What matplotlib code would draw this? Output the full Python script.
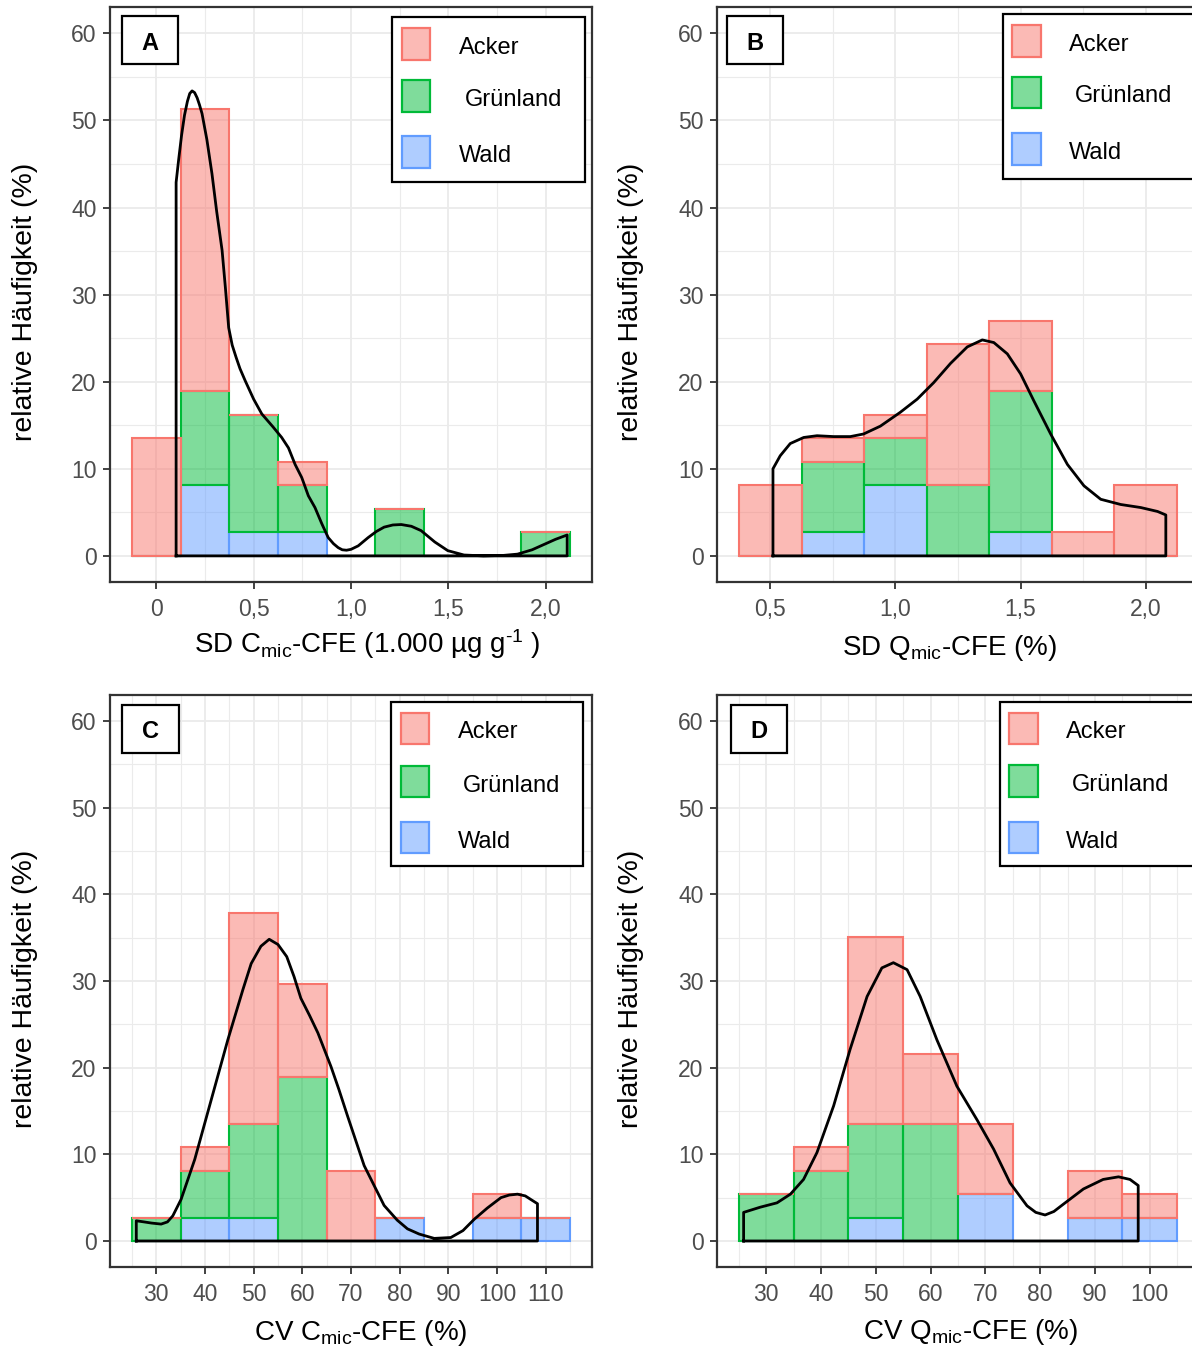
import numpy as np
import matplotlib
matplotlib.use("Agg")
import matplotlib.pyplot as plt
from matplotlib.patches import Rectangle
from matplotlib.colors import to_rgba

plt.rcParams['font.family'] = ['Liberation Sans', 'DejaVu Sans']
plt.rcParams['mathtext.fontset'] = 'custom'
plt.rcParams['mathtext.rm'] = 'Liberation Sans'
plt.rcParams['mathtext.it'] = 'Liberation Sans:italic'

# ---- data (relative frequency in %, stacked: Wald / Grünland / Acker) ----
groups = ["Acker", "Grünland", "Wald"]
colors = {"Acker": "#F8766D", "Grünland": "#00BA38", "Wald": "#619CFF"}

# A: SD Cmic-CFE
bins_A = [0, 0.25, 0.5, 0.75, 1.0, 1.25, 1.5, 1.75, 2.0]
wald_A = [0, 8.1, 2.7, 2.7, 0, 0, 0, 0, 0]
gruen_A = [0, 10.8, 13.5, 5.4, 0, 5.4, 0, 0, 2.7]
acker_A = [13.5, 32.4, 0, 2.7, 0, 0, 0, 0, 0]
dens_x_A = [0.102, 0.115, 0.13, 0.145, 0.16, 0.172, 0.184, 0.197, 0.21, 0.222,
            0.235, 0.26, 0.286, 0.31, 0.338, 0.355, 0.372, 0.39, 0.41, 0.43,
            0.457, 0.5, 0.542, 0.6, 0.644, 0.679, 0.713, 0.747, 0.781, 0.815,
            0.85, 0.883, 0.91, 0.934, 0.955, 0.977, 1.0, 1.037, 1.088, 1.13,
            1.17, 1.215, 1.258, 1.31, 1.36, 1.43, 1.497, 1.58, 1.68, 1.78,
            1.855, 1.93, 1.99, 2.05, 2.11]
dens_y_A = [42.9, 45.5, 48.3, 50.6, 52.2, 53.1, 53.4, 53.2, 52.6, 51.8,
            50.8, 47.8, 43.9, 39.6, 35.1, 30.8, 26.2, 24.2, 22.8, 21.5,
            20.1, 18.0, 16.3, 14.8, 13.6, 12.4, 10.5, 9.0, 6.9, 5.55,
            3.7, 2.1, 1.4, 0.95, 0.7, 0.65, 0.75, 1.15, 2.1, 2.8,
            3.3, 3.55, 3.6, 3.4, 2.9, 1.6, 0.6, 0.1, 0.0, 0.05,
            0.2, 0.7, 1.3, 1.9, 2.4]

# B: SD Qmic-CFE
bins_B = [0.5, 0.75, 1.0, 1.25, 1.5, 1.75, 2.0]
wald_B = [0, 2.7, 8.1, 0, 2.7, 0, 0]
gruen_B = [0, 8.1, 5.4, 8.1, 16.2, 0, 0]
acker_B = [8.1, 2.7, 2.7, 16.2, 8.1, 2.7, 8.1]
dens_x_B = [0.511, 0.54, 0.58, 0.634, 0.687, 0.753, 0.82, 0.873, 0.94, 1.02,
            1.087, 1.153, 1.22, 1.287, 1.347, 1.393, 1.447, 1.5, 1.553, 1.62,
            1.687, 1.753, 1.82, 1.9, 1.98, 2.047, 2.08]
dens_y_B = [10.0, 11.5, 12.9, 13.6, 13.8, 13.7, 13.7, 14.0, 14.9, 16.5,
            18.0, 19.9, 22.1, 24.0, 24.8, 24.5, 23.2, 20.9, 17.8, 14.0,
            10.5, 8.05, 6.5, 5.9, 5.55, 5.1, 4.7]

# C: CV Cmic-CFE
bins_C = [30, 40, 50, 60, 70, 80, 90, 100, 110]
wald_C = [0, 2.7, 2.7, 0, 0, 2.7, 0, 2.7, 2.7]
gruen_C = [2.7, 5.4, 10.8, 18.9, 0, 0, 0, 0, 0]
acker_C = [0, 2.7, 24.3, 10.8, 8.1, 0, 0, 2.7, 0]
dens_x_C = [25.9, 27.5, 29, 31, 32.3, 33.4, 35.1, 37.9, 41.3, 44.7, 47.8,
            49.5, 51.5, 53.2, 55, 56.8, 58.3, 59.7, 61.5, 63.2, 65.9, 67.5,
            69.3, 72.7, 76.8, 79.5, 81.6, 84, 87.1, 90.5, 93, 95.3, 98, 100.8,
            102.5, 104.2, 105.8, 106.9, 108.3]
dens_y_C = [2.33, 2.2, 2.07, 1.95, 2.2, 2.9, 4.8, 9.4, 16.3, 23.2, 29.0,
            32.0, 34.0, 34.8, 34.2, 32.8, 30.5, 28.0, 26.0, 24.0, 20.1, 17.5,
            14.4, 8.7, 4.1, 2.4, 1.4, 0.8, 0.3, 0.4, 1.2, 2.5, 3.8, 5.0,
            5.3, 5.4, 5.2, 4.8, 4.3]

# D: CV Qmic-CFE
bins_D = [30, 40, 50, 60, 70, 80, 90, 100]
wald_D = [0, 0, 2.7, 0, 5.4, 0, 2.7, 2.7]
gruen_D = [5.4, 8.1, 10.8, 13.5, 0, 0, 0, 0]
acker_D = [0, 2.7, 21.6, 8.1, 8.1, 0, 5.4, 2.7]
dens_x_D = [25.86, 28.9, 31.95, 34.4, 36.8, 39.25, 42.3, 45.3, 48.4, 51.1, 53.2,
            55.7, 58.1, 61.15, 64.8, 68.45, 71.5, 74.5, 77.6, 79.2, 80.9, 82.5,
            84.25, 87.9, 91.5, 94.3, 96.4, 97.9]
dens_y_D = [3.3, 3.9, 4.4, 5.4, 7.1, 10.2, 15.6, 22.1, 28.2, 31.5, 32.1,
            31.3, 28.2, 23.2, 17.85, 14.0, 10.6, 6.7, 4.06, 3.3, 3.0, 3.4,
            4.25, 6.0, 7.1, 7.4, 7.1, 6.4]

W, H = 1192, 1346
fig = plt.figure(figsize=(W / 100, H / 100), dpi=100)


def fx(x):
    return x / W


def fy(y):
    return 1 - y / H


def panel(box, centers, width, wald, gruen, acker, dx, dy, xlim, xticks,
          xticklabels, xminor, letter, letter_box, leg):
    l, t, r, b = box
    ax = fig.add_axes([fx(l), fy(b), (r - l) / W, (b - t) / H])
    ax.set_axisbelow(True)
    centers = np.array(centers, dtype=float)
    wald = np.array(wald)
    gruen = np.array(gruen)
    acker = np.array(acker)
    for vals, bottom, g in [(wald, 0, "Wald"), (gruen, wald, "Grünland"),
                            (acker, wald + gruen, "Acker")]:
        ax.bar(centers, vals, width=width, bottom=bottom,
               facecolor=to_rgba(colors[g], 0.5), edgecolor=colors[g],
               linewidth=1.5)
    px = [dx[0]] + list(dx) + [dx[-1], dx[0]]
    py = [0] + list(dy) + [0, 0]
    ax.plot(px, py, color="black", lw=2.0, solid_joinstyle="round")
    ax.set_xlim(*xlim)
    ax.set_ylim(-3, 63)
    ax.set_xticks(xticks)
    ax.set_xticklabels(xticklabels)
    ax.set_xticks(xminor, minor=True)
    ax.set_yticks([0, 10, 20, 30, 40, 50, 60])
    ax.set_yticks([5, 15, 25, 35, 45, 55], minor=True)
    ax.grid(which="major", color="#EBEBEB", lw=1.3)
    ax.grid(which="minor", color="#EBEBEB", lw=0.8)
    ax.tick_params(which="major", length=4.8, width=1.3, color="#333333",
                   labelcolor="#4D4D4D", labelsize=16.5)
    ax.tick_params(axis="x", pad=6.5)
    ax.tick_params(axis="y", pad=5)
    ax.tick_params(which="minor", length=0)
    for s in ax.spines.values():
        s.set_color("#333333")
        s.set_linewidth(1.6)

    # panel letter
    lx0, ly0, lx1, ly1 = letter_box
    fig.patches.append(Rectangle((fx(lx0), fy(ly1)), (lx1 - lx0) / W,
                                 (ly1 - ly0) / H, transform=fig.transFigure,
                                 facecolor="white", edgecolor="black", lw=1.6))
    fig.text(fx((lx0 + lx1) / 2), fy((ly0 + ly1) / 2 + 3), letter,
             ha="center", va="center", fontsize=17, fontweight="bold")

    # legend
    bx0, by0, bx1, by1, kx0, kx1, key_y, tx = leg
    fig.patches.append(Rectangle((fx(bx0), fy(by1)), (bx1 - bx0) / W,
                                 (by1 - by0) / H, transform=fig.transFigure,
                                 facecolor="white", edgecolor="black", lw=1.6))
    for g, (ky0, ky1), txx in zip(groups, key_y, tx):
        fig.patches.append(Rectangle((fx(kx0), fy(ky1)), (kx1 - kx0) / W,
                                     (ky1 - ky0) / H, transform=fig.transFigure,
                                     facecolor=to_rgba(colors[g], 0.5),
                                     edgecolor=colors[g], lw=1.6))
        fig.text(fx(txx), fy((ky0 + ky1) / 2 + 4), g, ha="left", va="center",
                 fontsize=17)
    return ax


panel((110, 7.3, 592, 582), bins_A, 0.25, wald_A, gruen_A, acker_A,
      dens_x_A, dens_y_A, (-0.2375, 2.2375), [0, 0.5, 1.0, 1.5, 2.0],
      ["0", "0,5", "1,0", "1,5", "2,0"], [0.25, 0.75, 1.25, 1.75],
      "A", (122, 16, 178, 64),
      (392, 17, 585, 182, 402, 430, [(28, 60), (80, 112), (136, 168)],
       [459, 465, 459]))

panel((717, 7.3, 1199, 582), bins_B, 0.25, wald_B, gruen_B, acker_B,
      dens_x_B, dens_y_B, (0.2875, 2.2125), [0.5, 1.0, 1.5, 2.0],
      ["0,5", "1,0", "1,5", "2,0"], [0.75, 1.25, 1.75],
      "B", (727, 16, 783, 64),
      (1003, 14, 1200, 179, 1012, 1041, [(25, 57), (77, 108), (133, 165)],
       [1069, 1075, 1069]))

panel((110, 694.8, 592, 1267), bins_C, 10, wald_C, gruen_C, acker_C,
      dens_x_C, dens_y_C, (20.5, 119.5), list(range(30, 111, 10)),
      [str(v) for v in range(30, 111, 10)], list(range(25, 120, 10)),
      "C", (122, 705, 179, 753),
      (391, 702, 583, 866, 401, 429, [(713, 744), (766, 797), (822, 853)],
       [458, 463, 458]))

panel((717, 694.8, 1199, 1267), bins_D, 10, wald_D, gruen_D, acker_D,
      dens_x_D, dens_y_D, (21, 109), list(range(30, 101, 10)),
      [str(v) for v in range(30, 101, 10)], list(range(25, 110, 10)),
      "D", (731, 705, 787, 753),
      (1000, 702, 1200, 866, 1009, 1038, [(713, 744), (765, 797), (822, 853)],
       [1066, 1072, 1066]))

# axis titles
ylab = "relative Häufigkeit (%)"
for x, y in [(25, 302), (631, 302), (25, 989), (631, 989)]:
    fig.text(fx(x), fy(y), ylab, rotation=90, ha="center", va="center",
             fontsize=20.5)

fig.text(fx(367), fy(653),
         r"SD C$_{\mathrm{mic}}$-CFE (1.000 µg g$^{\text{-1}}$ )",
         ha="center", va="baseline", fontsize=20)
fig.text(fx(950), fy(655), r"SD Q$_{\mathrm{mic}}$-CFE (%)",
         ha="center", va="baseline", fontsize=20)
fig.text(fx(361), fy(1340), r"CV C$_{\mathrm{mic}}$-CFE (%)",
         ha="center", va="baseline", fontsize=20)
fig.text(fx(971), fy(1339), r"CV Q$_{\mathrm{mic}}$-CFE (%)",
         ha="center", va="baseline", fontsize=20)

fig.savefig("out.png", dpi=100)
